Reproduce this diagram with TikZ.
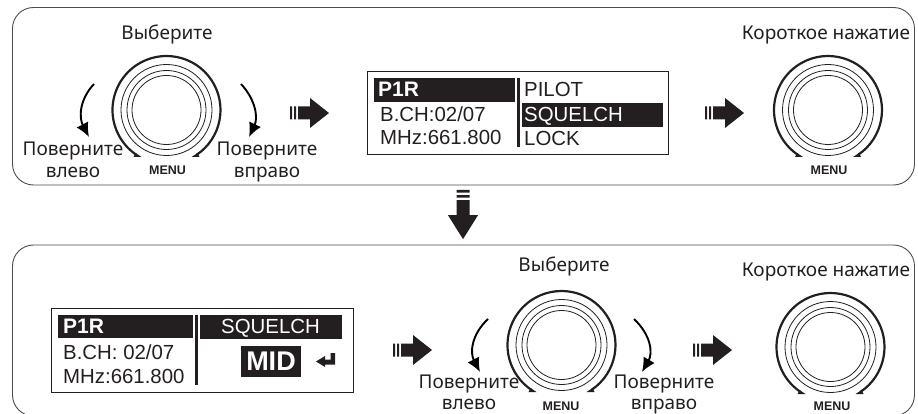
\documentclass[tikz,border=0pt]{standalone}
\usepackage{fontspec}
\setmainfont{Noto Sans}
\newfontfamily\lcdfont{Liberation Sans}
\usetikzlibrary{arrows.meta}
\definecolor{ink}{HTML}{231F20}
\tikzset{
  panel/.style={draw=ink!80,line width=0.9pt,rounded corners=21pt},
  hint/.style={anchor=base,font=\fontsize{19}{20}\selectfont},
  menulabel/.style={anchor=base,font=\fontsize{12.5}{12.5}\lcdfont\bfseries},
  lcdbox/.style={draw=ink,line width=0.9pt},
  lcdbar/.style={fill=ink},
  lcdtext/.style={anchor=base west,inner sep=0pt,font=\fontsize{20.4}{20.4}\lcdfont},
  lcdinv/.style={lcdtext,text=white},
  lcdhead/.style={lcdinv,font=\fontsize{21}{21}\lcdfont\bfseries},
  turn/.style={->,line width=1.9pt},
  knob/.pic={
    \draw[ink,line width=0.8pt] (0,0) circle (45.5) (0,0) circle (39.5) (0,0) circle (34.5);
    \draw[ink,line width=2.2pt,y=1pt] (-56:54pt) arc[start angle=-56,end angle=236,radius=54pt];
    \fill[ink] (-33,47) -- (-25,47) -- (-31,43) -- cycle;
    \fill[ink] (33,47) -- (25,47) -- (31,43) -- cycle;
  },
  blockarrow/.pic={
    \fill[ink] (0,-6.5) rectangle (2,6.5) (4,-6.5) rectangle (6,6.5);
    \fill[ink] (8,-6.5) -- (20,-6.5) -- (20,-15) -- (39,0) -- (20,15) -- (20,6.5) -- (8,6.5) -- cycle;
  }
}
\begin{document}
\begin{tikzpicture}[x=1pt,y=-1pt,>={Latex[length=14pt,width=13pt]},every node/.style={text=ink}]
\clip (0,0) rectangle (918,414);
\draw[panel] (12.5,7.5) rectangle (914.5,185);
\draw[panel] (12.5,245) rectangle (914.5,416);

\pic at (166.5,110) {knob};
\pic at (828,110) {knob};
\pic at (561.5,345) {knob};
\pic at (830.5,347) {knob};

\node[hint] (pick) at (167,40) {Выберите};
\node[hint] (press) at (826,40) {Короткое нажатие};
\node[hint] (left) at (73,156) {Поверните};
\node[hint] (leftb) at (73,178) {влево};
\node[hint] (right) at (267,156) {Поверните};
\node[hint] (rightb) at (267,178) {вправо};
\node[menulabel] (menu) at (167.5,175) {MENU};
\node[menulabel] (menup) at (829,175) {MENU};

\node[hint] (pickm) at (564,271) {Выберите};
\node[hint] (pressm) at (826,276) {Короткое нажатие};
\node[hint] (leftm) at (469,388) {Поверните};
\node[hint] (leftmb) at (469,409) {влево};
\node[hint] (rightm) at (664,388) {Поверните};
\node[hint] (rightmb) at (664,409) {вправо};
\node[menulabel] (menum) at (561,410) {MENU};
\node[menulabel] (menuq) at (832,410) {MENU};

\coordinate (lfrom) at (94,84);
\coordinate (lto) at (89,137);
\coordinate (rfrom) at (241,84);
\coordinate (rto) at (249,137);
\coordinate (mlfrom) at (488,319);
\coordinate (mlto) at (480,372);
\coordinate (mrfrom) at (634,319);
\coordinate (mrto) at (642,372);
\draw[turn] (lfrom) .. controls (79,100) and (79,118) .. (lto);
\draw[turn] (rfrom) .. controls (256,100) and (258,118) .. (rto);
\draw[turn] (mlfrom) .. controls (471,335) and (470,353) .. (mlto);
\draw[turn] (mrfrom) .. controls (651,335) and (653,353) .. (mrto);

\pic at (290,113) {blockarrow};
\pic at (705,113) {blockarrow};
\pic at (393,350) {blockarrow};
\pic at (693,350) {blockarrow};
\pic[rotate=-90,xscale=1.26] at (463,190) {blockarrow};

\draw[lcdbox] (367,71) rectangle (668,154);
\fill[lcdbar] (374,78) rectangle (515,102);
\fill[lcdbar] (517.3,78) rectangle (519.8,147);
\fill[lcdbar] (522,103) rectangle (663,127);
\node[lcdhead] (title) at (378,97) {P1R};
\node[lcdtext] (chan) at (380,122) {B.CH:02/07};
\node[lcdtext] (freq) at (380,145) {MHz:661.800};
\node[lcdtext] (pilot) at (524,97) {PILOT};
\node[lcdinv] (squelch) at (524,122) {SQUELCH};
\node[lcdtext] (lock) at (524,146) {LOCK};

\draw[lcdbox] (51,308) rectangle (353,392);
\fill[lcdbar] (58,315) rectangle (193,338);
\fill[lcdbar] (195.3,315) rectangle (197.8,385);
\fill[lcdbar] (200,315) rectangle (342,339);
\fill[lcdbar] (241,346) rectangle (301,377);
\node[lcdhead] (titlem) at (63,333) {P1R};
\node[lcdtext] (chanm) at (63,359) {B.CH: 02/07};
\node[lcdtext] (freqm) at (63,383) {MHz:661.800};
\node[lcdinv,anchor=base] (squelchm) at (270.5,333) {SQUELCH};
\node[lcdinv,anchor=base,font=\fontsize{27}{27}\lcdfont\bfseries] (level) at (271,370.5) {MID};
\fill[ink] (330.5,353) -- (335,353) -- (335,364.5) -- (325,364.5) -- (325,367) -- (316,361.5) -- (325,356) -- (325,359.5) -- (330.5,359.5) -- cycle;
\end{tikzpicture}
\end{document}
